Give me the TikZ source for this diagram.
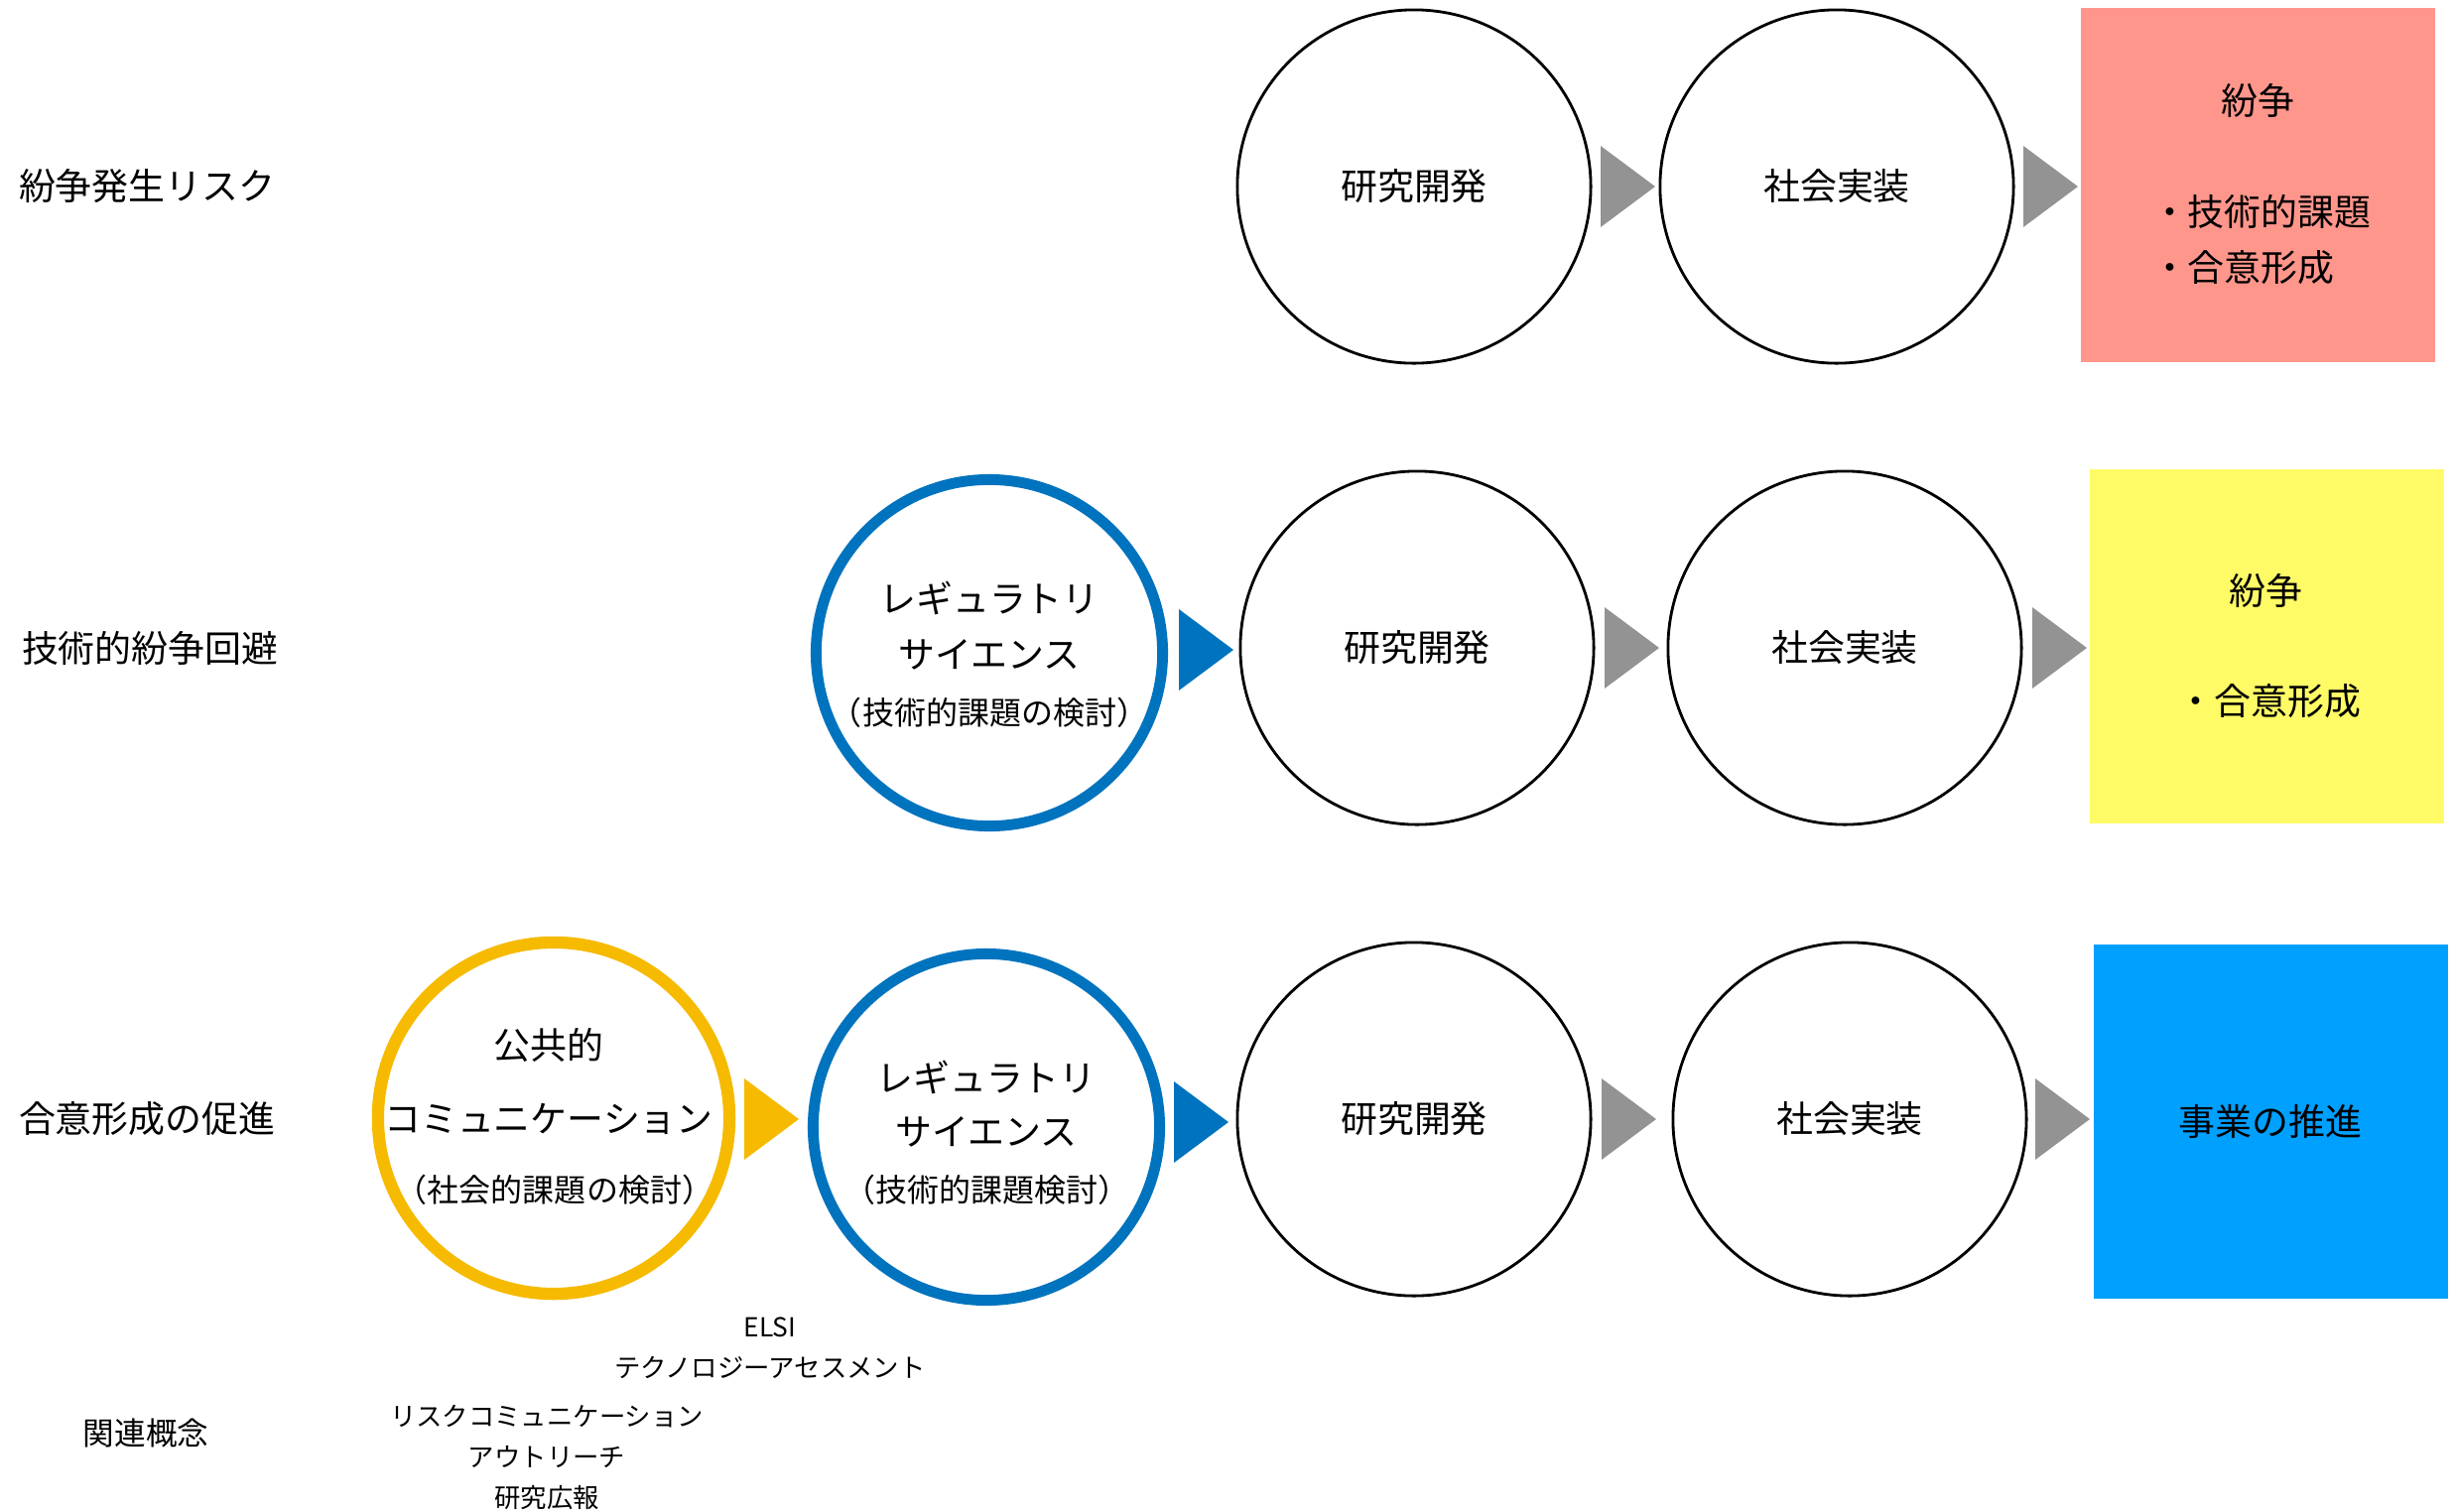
\documentclass[tikz,border=0pt]{standalone}
\usepackage{fontspec}
\setmainfont{Noto Sans CJK JP}
\usetikzlibrary{calc}
\definecolor{ringblue}{RGB}{0,115,190}
\definecolor{ringgold}{RGB}{246,186,0}
\definecolor{arrgray}{RGB}{147,147,147}
\definecolor{boxred}{RGB}{255,150,140}
\definecolor{boxyellow}{RGB}{255,251,102}
\definecolor{boxblue}{RGB}{0,160,255}
\newcommand\tri[3]{\fill[#3] (#1,#2-41) -- (#1+55,#2) -- (#1,#2+41) -- cycle;}
\begin{document}
\begin{tikzpicture}[x=0.01cm,y=-0.01cm,
  every node/.style={inner sep=0pt, outer sep=0pt},
  stage/.style={circle, draw=black, line width=0.8pt, minimum size=3.56cm},
  bluering/.style={circle, draw=ringblue, line width=3.1pt, minimum size=3.49cm},
  goldring/.style={circle, draw=ringgold, line width=3.5pt, minimum size=3.54cm},
  resbox/.style={minimum width=3.56cm, minimum height=3.57cm},
  big/.style={font=\fontsize{10.5pt}{12pt}\selectfont},
  mid/.style={font=\fontsize{9.1pt}{11pt}\selectfont},
  small/.style={font=\fontsize{7.5pt}{9pt}\selectfont},
  rowlabel/.style={big, anchor=west}]
\useasboundingbox (0,0) rectangle (2474,1523);

% ---- Row 1
\node[rowlabel] (l1) at (19,188) {紛争発生リスク};
\node[stage] (rd1) at (1425,188) {};
\node[big] (rd1t) at (rd1) {研究開発};
\node[stage] (sj1) at (1851,188) {};
\node[big] (sj1t) at (sj1) {社会実装};
\tri{1613}{188}{arrgray}
\tri{2039}{188}{arrgray}
\node[resbox, fill=boxred] (b1) at (2275.5,186.5) {};
\node[big] (b1a) at (2275,101) {紛争};
\node[big, anchor=west] (b1b) at (2168,213) {・技術的課題};
\node[big, anchor=west] (b1c) at (2168,270) {・合意形成};

% ---- Row 2
\node[rowlabel] (l2) at (22,653) {技術的紛争回避};
\node[bluering] (rs1) at (997,658) {};
\node[big] (rs1a) at (997,603) {レギュラトリ};
\node[big] (rs1b) at (997,660) {サイエンス};
\node[mid] (rs1c) at (997,718) {（技術的課題の検討）};
\tri{1188}{655}{ringblue}
\node[stage] (rd2) at (1428,653) {};
\node[big] (rd2t) at (rd2) {研究開発};
\tri{1617}{653}{arrgray}
\node[stage] (sj2) at (1859,653) {};
\node[big] (sj2t) at (sj2) {社会実装};
\tri{2048}{653}{arrgray}
\node[resbox, fill=boxyellow] (b2) at (2284.5,651.5) {};
\node[big] (b2a) at (2283,595) {紛争};
\node[big] (b2b) at (2287,707) {・合意形成};

% ---- Row 3
\node[rowlabel] (l3) at (19,1128) {合意形成の促進};
\node[goldring] (yc) at (558,1127) {};
\node[big] (yca) at (553,1053) {公共的};
\node[big] (ycb) at (553,1128) {コミュニケーション};
\node[mid] (ycc) at (559,1199) {（社会的課題の検討）};
\tri{750}{1128}{ringgold}
\node[bluering] (rs2) at (994,1136) {};
\node[big] (rs2a) at (994,1086) {レギュラトリ};
\node[big] (rs2b) at (994,1141) {サイエンス};
\node[mid] (rs2c) at (994,1199) {（技術的課題検討）};
\tri{1183}{1131}{ringblue}
\node[stage] (rd3) at (1425,1128) {};
\node[big] (rd3t) at (rd3) {研究開発};
\tri{1614}{1128}{arrgray}
\node[stage] (sj3) at (1864,1128) {};
\node[big] (sj3t) at (sj3) {社会実装};
\tri{2051}{1128}{arrgray}
\node[resbox, fill=boxblue] (b3) at (2288.5,1130.5) {};
\node[big] (b3a) at (2288,1130) {事業の推進};

% ---- Related concepts
\node[small] (c1) at (776,1338) {ELSI};
\node[small] (c2) at (776,1378) {テクノロジーアセスメント};
\node[font=\fontsize{9pt}{11pt}\selectfont] (c0) at (147,1444) {関連概念};
\node[small] (c3) at (551,1428) {リスクコミュニケーション};
\node[small] (c4) at (551,1468) {アウトリーチ};
\node[small] (c5) at (551,1509) {研究広報};
\end{tikzpicture}
\end{document}
